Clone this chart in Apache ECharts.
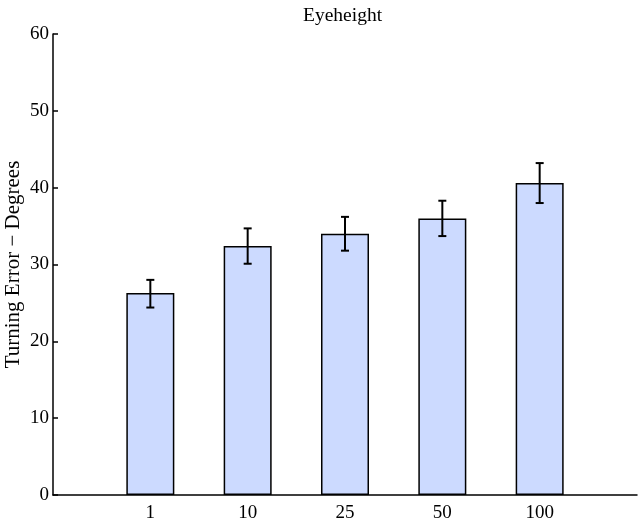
<!DOCTYPE html>
<html>
<head>
<meta charset="utf-8">
<script src="https://cdn.jsdelivr.net/npm/echarts@6/dist/echarts.min.js"></script>
<style>
  html, body { margin: 0; padding: 0; background: #fff; }
  #main { width: 642px; height: 525px; }
</style>
</head>
<body>
<div id="main"></div>
<script>
// data
var categories = ["1", "10", "25", "50", "100"];
var means = [26.3, 32.4, 34.0, 36.0, 40.6];
var errLow = [24.4, 30.1, 31.8, 33.7, 38.0];
var errHigh = [28.0, 34.7, 36.2, 38.3, 43.2];
var yTicks = [0, 10, 20, 30, 40, 50, 60];

var chart = echarts.init(document.getElementById("main"));
var font = "Liberation Serif";

var barData = means.map(function (v, i) { return [i + 1, v]; });
var errData = means.map(function (v, i) { return [i + 1, errLow[i], errHigh[i]]; });

var option = {
  animation: false,
  backgroundColor: "#fff",
  textStyle: { fontFamily: font },
  title: {
    text: "Eyeheight",
    left: 298,
    top: 1,
    textStyle: { fontFamily: font, fontSize: 19.5, fontWeight: "normal", color: "#000" }
  },
  grid: { left: 53, right: 5, top: 34, bottom: 30, containLabel: false, outerBoundsMode: "none" },
  xAxis: {
    type: "value",
    min: 0,
    max: 6,
    interval: 1,
    splitLine: { show: false },
    axisTick: { show: false },
    axisLine: { lineStyle: { color: "#000", width: 1.5 } },
    axisLabel: {
      color: "#000",
      fontFamily: font,
      fontSize: 19,
      margin: 9,
      formatter: function (v) { return categories[v - 1] || ""; }
    }
  },
  yAxis: {
    type: "value",
    min: yTicks[0],
    max: yTicks[yTicks.length - 1],
    interval: 10,
    name: "Turning Error \u2212 Degrees",
    nameLocation: "middle",
    nameGap: 29,
    nameMoveOverlap: false,
    nameTextStyle: { color: "#000", fontFamily: font, fontSize: 21 },
    splitLine: { show: false },
    axisLine: { show: true, lineStyle: { color: "#000", width: 1.5 } },
    axisTick: { show: true, inside: true, length: 5, lineStyle: { color: "#000", width: 1.5 } },
    axisLabel: { color: "#000", fontFamily: font, fontSize: 19, margin: 4 }
  },
  series: [
    {
      type: "bar",
      data: barData,
      barWidth: 48,
      itemStyle: { color: "#ccdaff", borderColor: "#000", borderWidth: 1.5 }
    },
    {
      type: "custom",
      data: errData,
      z: 10,
      renderItem: function (params, api) {
        var x = api.value(0);
        var lo = api.coord([x, api.value(1)]);
        var hi = api.coord([x, api.value(2)]);
        var cap = 4;
        var style = { stroke: "#000", lineWidth: 2 };
        return {
          type: "group",
          children: [
            { type: "line", shape: { x1: lo[0], y1: lo[1], x2: hi[0], y2: hi[1] }, style: style },
            { type: "line", shape: { x1: hi[0] - cap, y1: hi[1], x2: hi[0] + cap, y2: hi[1] }, style: style },
            { type: "line", shape: { x1: lo[0] - cap, y1: lo[1], x2: lo[0] + cap, y2: lo[1] }, style: style }
          ]
        };
      }
    }
  ]
};
chart.setOption(option);
</script>
</body>
</html>
